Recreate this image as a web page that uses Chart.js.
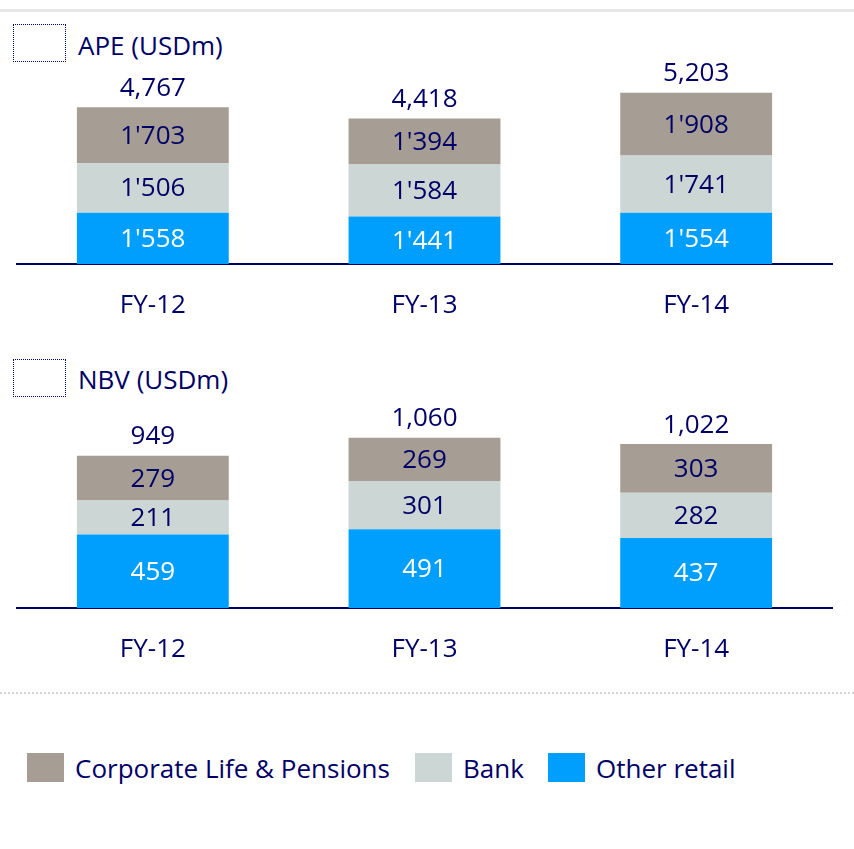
<!DOCTYPE html>
<html>
<head>
<meta charset="utf-8">
<script src="https://cdn.jsdelivr.net/npm/chart.js@4.4.1/dist/chart.umd.min.js"></script>
<style>
  html, body { margin:0; padding:0; background:#fff; }
  body { width:854px; height:849px; position:relative; overflow:hidden; font-family:"Open Sans", sans-serif; color:#000066; }
  .topbar { position:absolute; left:0; top:9px; width:854px; height:3px; background:#e5e8e7; }
  .box { position:absolute; left:13px; width:53px; height:38px; border:1px dotted #000066; box-sizing:border-box; }
  .title { position:absolute; left:78px; font-size:26px; line-height:30px; white-space:nowrap; }
  .cw { position:absolute; left:0; width:854px; }
  .dots { position:absolute; left:0; top:692px; width:854px; height:0; border-top:2px dotted #d4d6d6; }
  .legend { position:absolute; top:751px; left:0; width:854px; height:34px; }
  .sw { position:absolute; top:2px; width:37px; height:29px; }
  .lt { position:absolute; top:0; font-size:26px; line-height:34px; white-space:nowrap; }
</style>
</head>
<body>
<div class="topbar"></div>
<div class="box" style="top:24px;"></div>
<div class="title" style="top:30px;">APE (USDm)</div>
<div class="box" style="top:359px;"></div>
<div class="title" style="top:364px;">NBV (USDm)</div>
<div class="cw" style="top:0px;height:340px;"><canvas id="c1" width="854" height="340"></canvas></div>
<div class="cw" style="top:340px;height:340px;"><canvas id="c2" width="854" height="340"></canvas></div>
<div class="dots"></div>
<div class="legend" id="legend"></div>
<script>
const categories = ["FY-12", "FY-13", "FY-14"];
const seriesNames = ["Other retail", "Bank", "Corporate Life & Pensions"];
const seriesColors = ["#009ffd", "#ccd6d5", "#a69d94"];
const labelColors = ["#ffffff", "#000066", "#000066"];

const apeOtherRetail = [1558, 1441, 1554];
const apeBank = [1506, 1584, 1741];
const apeCorporate = [1703, 1394, 1908];
const apeTotals = [4767, 4418, 5203];

const nbvOtherRetail = [459, 491, 437];
const nbvBank = [211, 301, 282];
const nbvCorporate = [279, 269, 303];
const nbvTotals = [949, 1060, 1022];

const FONT = "'Open Sans', sans-serif";
const NAVY = "#000066";

function fmtSeg(v) {
  const s = String(v);
  return s.length > 3 ? s.slice(0, s.length - 3) + "'" + s.slice(-3) : s;
}
function fmtTot(v) {
  return v.toLocaleString("en-US");
}

const labelPlugin = {
  id: "barLabels",
  afterDatasetsDraw(chart, args, opts) {
    const ctx = chart.ctx;
    ctx.save();
    ctx.font = "26px " + FONT;
    ctx.textAlign = "center";
    ctx.textBaseline = "middle";
    const n = chart.data.datasets.length;
    chart.data.datasets.forEach((ds, di) => {
      const meta = chart.getDatasetMeta(di);
      meta.data.forEach((el, i) => {
        const p = el.getProps(["x", "y", "base"], true);
        ctx.fillStyle = labelColors[di];
        ctx.fillText(opts.segFmt(ds.data[i]), p.x, (p.y + p.base) / 2 + 1);
        if (di === n - 1) {
          ctx.fillStyle = NAVY;
          ctx.fillText(fmtTot(opts.totals[i]), p.x, p.y - 19);
        }
      });
    });
    ctx.restore();
  }
};

function makeChart(id, series, totals, yMax, padBottom) {
  return new Chart(document.getElementById(id), {
    type: "bar",
    data: {
      labels: categories,
      datasets: series.map((d, i) => ({
        label: seriesNames[i],
        data: d,
        backgroundColor: seriesColors[i],
        borderWidth: 0,
        barPercentage: 0.559,
        categoryPercentage: 1.0
      }))
    },
    options: {
      responsive: false,
      animation: false,
      layout: { padding: { left: 17, right: 22, top: 60, bottom: padBottom } },
      plugins: {
        legend: { display: false },
        tooltip: { enabled: false },
        barLabels: { totals: totals, segFmt: fmtSeg }
      },
      scales: {
        x: {
          stacked: true,
          grid: { display: false },
          border: { display: true, color: NAVY, width: 2 },
          ticks: { color: NAVY, font: { family: FONT, size: 26 }, padding: 18 },
          afterFit: (scale) => { scale.height = 70; }
        },
        y: {
          stacked: true,
          display: false,
          min: 0,
          max: yMax
        }
      }
    },
    plugins: [labelPlugin]
  });
}

makeChart("c1", [apeOtherRetail, apeBank, apeCorporate], apeTotals, 6200, 6);
makeChart("c2", [nbvOtherRetail, nbvBank, nbvCorporate], nbvTotals, 1297, 2);

// legend
const legendItems = [
  { name: seriesNames[2], color: seriesColors[2], sx: 27, tx: 75 },
  { name: seriesNames[1], color: seriesColors[1], sx: 415, tx: 463 },
  { name: seriesNames[0], color: seriesColors[0], sx: 548, tx: 596 }
];
const lg = document.getElementById("legend");
legendItems.forEach(it => {
  const s = document.createElement("div");
  s.className = "sw"; s.style.left = it.sx + "px"; s.style.background = it.color;
  lg.appendChild(s);
  const t = document.createElement("div");
  t.className = "lt"; t.style.left = it.tx + "px"; t.textContent = it.name;
  lg.appendChild(t);
});
</script>
</body>
</html>
